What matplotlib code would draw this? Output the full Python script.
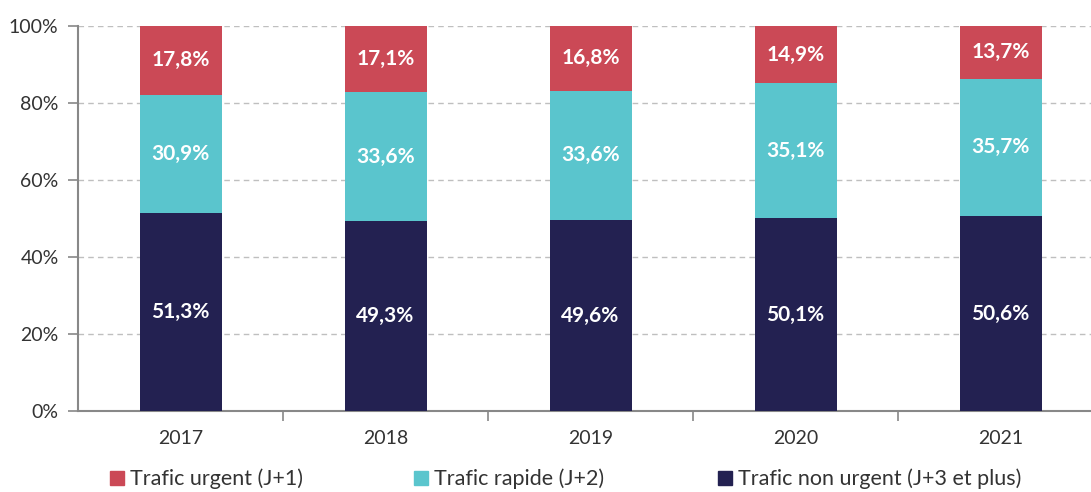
import matplotlib
matplotlib.use('Agg')
import matplotlib.pyplot as plt
from matplotlib.patches import Patch
import numpy as np

years = ["2017", "2018", "2019", "2020", "2021"]
non_urgent = [51.3, 49.3, 49.6, 50.1, 50.6]
rapide = [30.9, 33.6, 33.6, 35.1, 35.7]
urgent = [17.8, 17.1, 16.8, 14.9, 13.7]
series_names = ["Trafic urgent (J+1)", "Trafic rapide (J+2)", "Trafic non urgent (J+3 et plus)"]

c_urgent = "#CB4956"
c_rapide = "#5AC5CD"
c_non = "#232151"

plt.rcParams['font.family'] = ['Lato', 'DejaVu Sans']

fig = plt.figure(figsize=(10.91, 4.92), dpi=100)
ax = fig.add_axes([78/1091, 81/492, 1025/1091, 385/492])

x = np.arange(len(years))
w = 0.4
b1 = ax.bar(x, non_urgent, w, color=c_non, zorder=3)
b2 = ax.bar(x, rapide, w, bottom=non_urgent, color=c_rapide, zorder=3)
bot3 = np.array(non_urgent) + np.array(rapide)
b3 = ax.bar(x, urgent, w, bottom=bot3, color=c_urgent, zorder=3)

def fmt(v):
  return ("%.1f%%" % v).replace(".", ",")

for bars, vals in [(b1, non_urgent), (b2, rapide), (b3, urgent)]:
  ax.bar_label(bars, labels=[fmt(v) for v in vals], label_type='center',
               color='white', fontweight='bold', fontsize=15)

ax.set_xlim(-0.5, len(years) - 0.5)
ax.set_ylim(0, 100)
ax.set_yticks(range(0, 101, 20))
ax.set_yticklabels(["%d%%" % v for v in range(0, 101, 20)], fontsize=14)
ax.yaxis.grid(True, linestyle=(0, (4, 3)), color='#BFBFBF', linewidth=1, zorder=0)
ax.tick_params(axis='y', length=7, color='#888888', width=1.2, labelcolor='#333333', pad=7)

ax.set_xticks(x)
ax.set_xticklabels(years, fontsize=14, color='#333333')
ax.tick_params(axis='x', which='major', length=0, pad=14)
ax.set_xticks(np.arange(0.5, len(years) - 0.5, 1), minor=True)
ax.tick_params(axis='x', which='minor', length=7, color='#888888', width=1.2)

for s in ['top', 'right']:
  ax.spines[s].set_visible(False)
for s in ['left', 'bottom']:
  ax.spines[s].set_color('#888888')
  ax.spines[s].set_linewidth(1.5)

colors = [c_urgent, c_rapide, c_non]
xpos = [110, 414, 718]
for name, col, xp in zip(series_names, colors, xpos):
  fig.legend(handles=[Patch(color=col)], labels=[name], loc='center left',
             bbox_to_anchor=(xp/1091, 1 - 479/492), frameon=False,
             fontsize=15.5, handlelength=0.65, handleheight=0.65,
             handletextpad=0.3, borderpad=0, borderaxespad=0,
             labelcolor='#333333')

plt.savefig("out.png", dpi=100)
